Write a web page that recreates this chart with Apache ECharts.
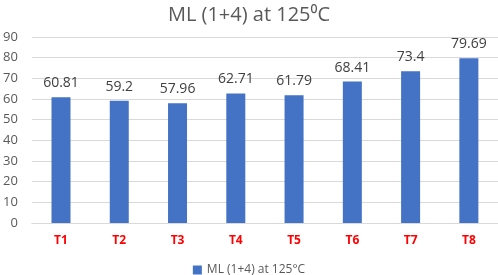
<!DOCTYPE html>
<html><head><meta charset="utf-8">
<script src="https://cdn.jsdelivr.net/npm/echarts@6/dist/echarts.min.js"></script>
<style>html,body{margin:0;padding:0;background:#fff}#c{width:498px;height:275px}</style>
</head><body><div id="c"></div>
<script>
var categories = ["T1","T2","T3","T4","T5","T6","T7","T8"];
var values = [60.81, 59.2, 57.96, 62.71, 61.79, 68.41, 73.4, 79.69];
var valueLabels = ["60.81","59.2","57.96","62.71","61.79","68.41","73.4","79.69"];
var seriesName = "ML (1+4) at 125°C";
var titleText = "ML (1+4) at 125⁰C";
var chart = echarts.init(document.getElementById('c'));
chart.setOption({
  animation: false,
  title: {text: titleText, left: 'center', top: 0, textStyle: {fontFamily: 'Open Sans', fontSize: 20, fontWeight: 'normal', color: '#595959'}},
  legend: {top: 259, left: 'center', itemWidth: 9, itemHeight: 9, icon: 'rect', textStyle: {fontFamily: 'Open Sans', fontSize: 12, color: '#595959'}, data: [seriesName]},
  grid: {left: 26, right: 0, top: 37, bottom: 52, containLabel: false},
  xAxis: {type: 'category', data: categories, axisTick: {show: false}, axisLine: {lineStyle: {color: '#d9d9d9'}},
    axisLabel: {color: '#ff0000', fontWeight: 'bold', fontFamily: 'Open Sans', fontSize: 12, margin: 12}},
  yAxis: {type: 'value', min: 0, max: 90, interval: 10, axisLine: {show: false}, axisTick: {show: false},
    splitLine: {lineStyle: {color: '#d9d9d9'}},
    axisLabel: {color: '#595959', fontFamily: 'Open Sans', fontSize: 13, margin: 14}},
  series: [{name: seriesName, type: 'bar', data: values, barWidth: 19, itemStyle: {color: '#4472C4'},
    label: {show: true, position: 'top', distance: 7, color: '#404040', fontFamily: 'Open Sans', fontSize: 14,
      formatter: function(p){return valueLabels[p.dataIndex];}}}]
});
</script></body></html>
